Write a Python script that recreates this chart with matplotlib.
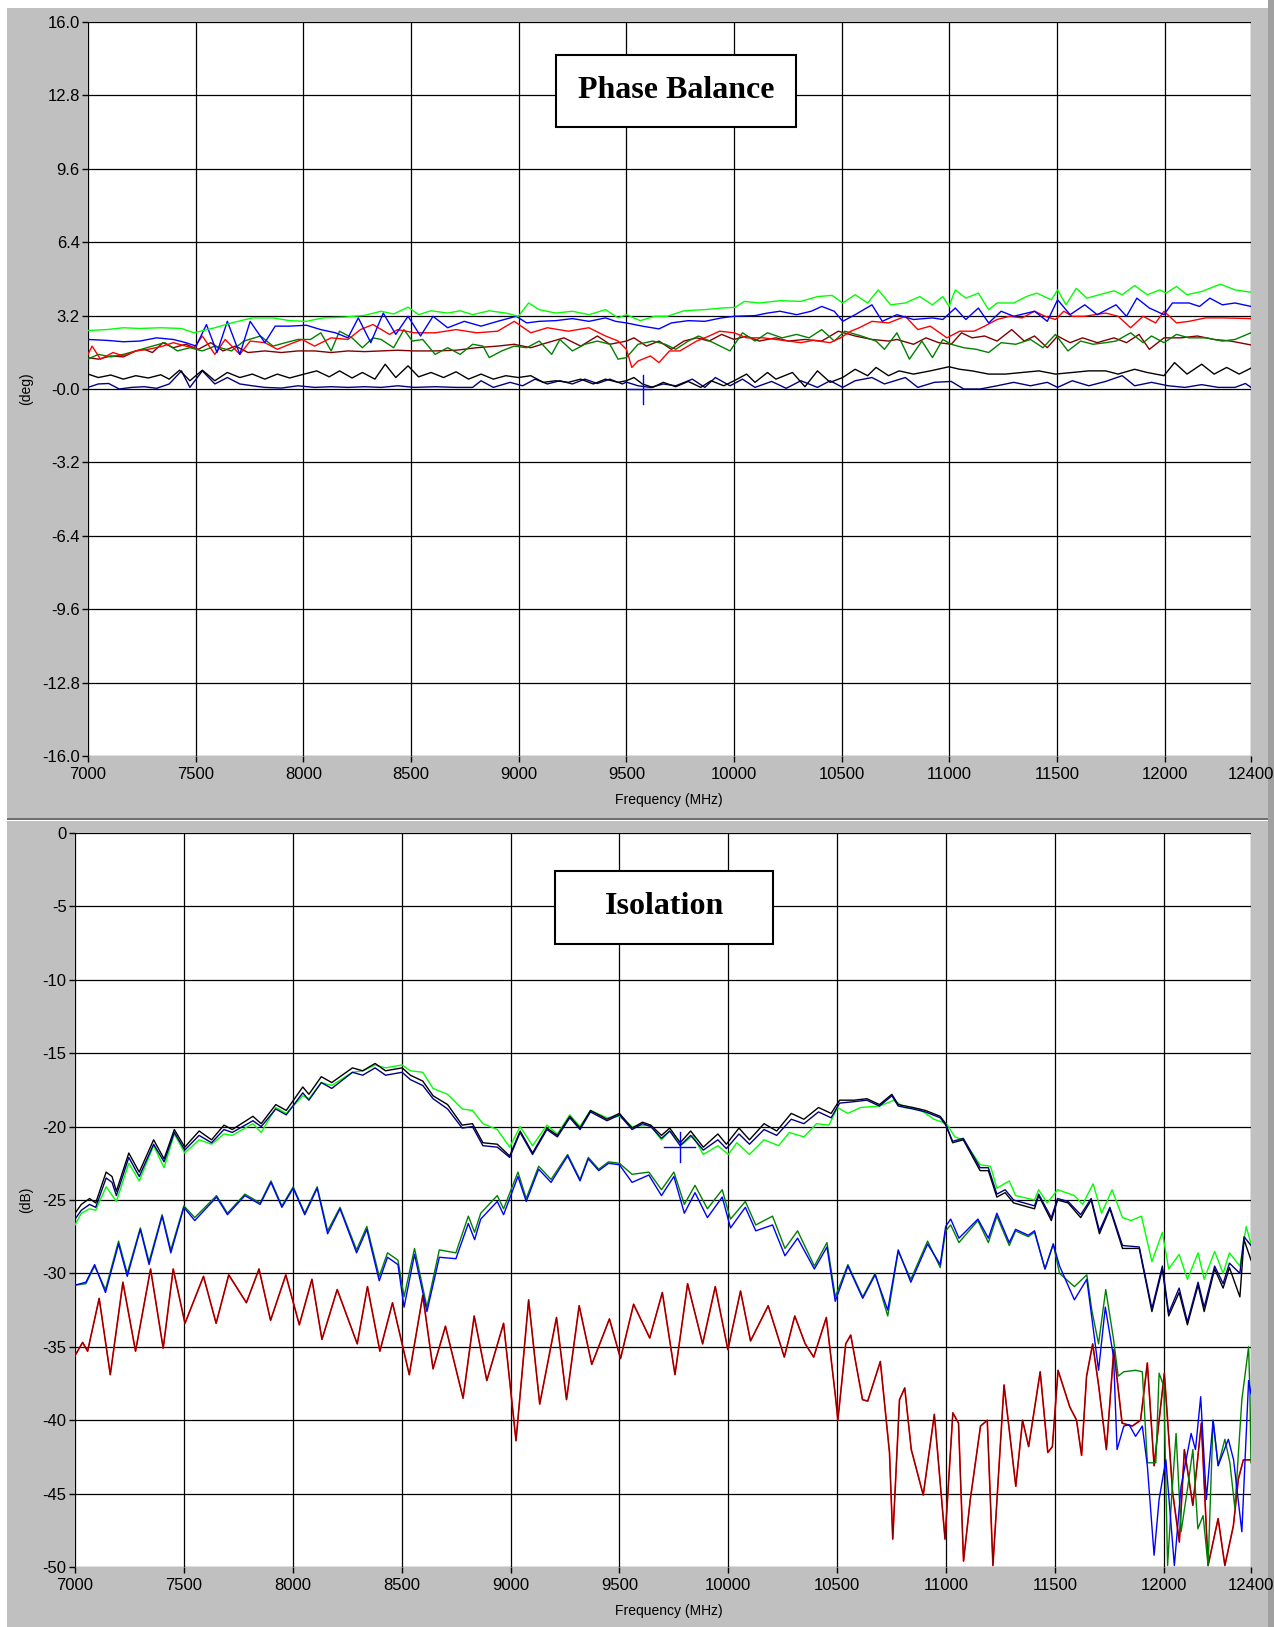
import matplotlib
matplotlib.use("Agg")
import matplotlib.pyplot as plt
from matplotlib.patches import Rectangle
import numpy as np

W, H = 1274, 1627

# ---------------- Phase Balance data (deg) ----------------
pb_green_f = [7000,7087,7164,7241,7338,7434,7492,7589,7666,7763,7859,7936,8014,8091,8187,8284,8361,8419,8486,8535,8593,8670,8728,8786,8863,8940,8998,9046,9095,9172,9249,9326,9403,9461,9500,9564,9632,9690,9767,9864,9942,10004,10048,10116,10213,10310,10388,10455,10504,10562,10620,10669,10727,10795,10862,10921,10969,10998,11027,11076,11134,11182,11221,11298,11357,11405,11473,11502,11541,11589,11638,11696,11764,11802,11860,11918,11977,12006,12054,12103,12171,12258,12326,12400]
pb_green_v = [2.55,2.59,2.67,2.64,2.67,2.64,2.45,2.67,2.88,3.10,3.10,2.98,2.95,3.10,3.13,3.21,3.39,3.27,3.57,3.24,3.41,3.31,3.41,3.24,3.41,3.31,3.17,3.75,3.46,3.31,3.39,3.24,3.46,3.10,3.24,2.98,3.17,3.17,3.41,3.46,3.53,3.56,3.82,3.75,3.85,3.82,4.03,4.08,3.75,4.11,3.75,4.32,3.67,3.75,4.03,3.67,4.03,3.60,4.32,3.96,4.18,3.46,3.75,3.75,4.03,4.18,3.89,4.32,3.67,4.39,3.96,4.11,4.28,4.11,4.51,4.11,4.32,4.18,4.47,4.11,4.25,4.57,4.32,4.22]

pb_blue_f = [7000,7087,7164,7241,7318,7396,7454,7502,7550,7599,7647,7705,7753,7821,7869,7936,8014,8081,8149,8207,8255,8313,8371,8429,8486,8544,8602,8670,8747,8825,8902,8988,9037,9095,9172,9249,9326,9403,9450,9500,9574,9651,9709,9787,9864,9942,10000,10097,10155,10213,10290,10358,10407,10465,10504,10562,10640,10688,10756,10833,10921,10969,11027,11076,11134,11182,11240,11298,11395,11454,11502,11560,11628,11686,11773,11822,11870,11928,11996,12035,12112,12161,12209,12267,12326,12400]
pb_blue_v = [2.16,2.12,2.06,2.09,2.23,2.16,2.02,1.87,2.81,1.59,2.95,1.51,2.95,2.02,2.74,2.74,2.78,2.59,2.45,2.23,3.10,2.02,3.31,2.38,3.17,2.31,3.17,2.67,2.95,2.74,2.95,3.17,2.88,2.95,2.98,3.07,2.95,3.10,2.95,2.88,2.74,2.62,2.88,2.98,2.95,3.10,3.17,3.20,3.31,3.39,3.24,3.39,3.60,3.39,2.95,3.24,3.67,2.95,3.24,3.03,3.10,3.03,3.53,3.03,3.53,2.88,3.39,3.17,3.39,2.95,3.89,3.24,3.67,3.24,3.67,3.17,3.96,3.53,3.24,3.75,3.75,3.60,3.96,3.67,3.75,3.60]

pb_red_f = [7000,7019,7058,7116,7164,7222,7280,7348,7396,7454,7492,7531,7589,7637,7705,7753,7821,7879,7936,7994,8052,8129,8207,8265,8323,8400,8438,8515,8612,8709,8805,8902,8979,9056,9133,9230,9326,9403,9460,9500,9525,9554,9612,9651,9700,9748,9826,9884,9932,10000,10058,10136,10194,10252,10310,10368,10446,10494,10542,10581,10640,10717,10795,10853,10911,10988,11047,11114,11163,11221,11279,11337,11395,11444,11492,11531,11570,11628,11725,11783,11841,11899,11957,11996,12054,12112,12190,12267,12400]
pb_red_v = [1.51,1.87,1.30,1.59,1.44,1.66,1.73,1.87,2.02,1.87,1.80,2.31,1.51,2.16,1.51,2.09,2.02,1.73,1.95,2.16,1.87,2.23,2.16,2.59,2.81,2.38,2.59,2.45,2.45,2.59,2.45,2.52,2.95,2.45,2.67,2.52,2.67,2.31,2.10,1.73,0.94,1.22,1.44,1.15,1.66,1.66,2.09,2.31,2.52,2.45,2.23,2.23,2.16,2.09,2.02,2.12,2.02,2.23,2.52,2.67,2.95,2.88,3.17,2.59,2.74,2.23,2.52,2.52,2.74,3.03,3.17,3.10,3.39,3.17,3.03,3.39,3.17,3.17,3.31,3.17,2.67,3.17,2.88,3.39,2.88,2.95,3.10,3.10,3.07]

pb_dkgreen_f = [7000,7048,7106,7164,7222,7299,7357,7415,7473,7531,7589,7666,7724,7801,7859,7917,7975,8033,8081,8129,8168,8226,8274,8323,8361,8419,8467,8506,8554,8612,8670,8728,8786,8834,8863,8921,8979,9037,9095,9153,9191,9249,9307,9365,9423,9461,9500,9554,9622,9680,9729,9787,9835,9903,9981,10039,10097,10155,10223,10290,10348,10407,10465,10514,10591,10659,10698,10756,10814,10872,10921,10969,11008,11066,11124,11182,11240,11308,11376,11434,11492,11550,11609,11667,11725,11773,11841,11899,11938,11996,12054,12112,12190,12267,12326,12400]
pb_dkgreen_v = [1.30,1.51,1.40,1.51,1.66,1.87,2.02,1.66,1.80,1.66,1.87,1.66,2.09,2.31,1.87,2.02,2.16,2.16,2.45,1.66,2.52,2.23,1.80,2.23,2.16,1.80,2.59,2.09,2.16,1.51,1.80,1.51,1.95,1.87,1.37,1.66,1.87,1.80,2.09,1.51,2.16,1.66,1.95,2.09,1.95,1.30,1.37,1.95,2.09,1.95,1.73,2.09,2.31,2.02,1.66,2.45,2.09,2.45,2.23,2.38,2.23,2.59,2.09,2.52,2.31,2.09,1.73,2.45,1.30,2.09,1.37,2.16,1.95,1.80,1.73,1.59,2.02,1.95,2.16,1.80,2.38,1.66,2.09,1.95,2.02,2.09,2.45,2.02,2.31,2.02,2.38,2.23,2.23,2.09,2.16,2.45]

pb_dkred_f = [7000,7048,7106,7164,7222,7261,7299,7348,7396,7454,7512,7570,7627,7685,7743,7821,7898,7975,8052,8129,8207,8284,8361,8438,8515,8612,8709,8805,8902,8979,9056,9133,9210,9288,9365,9423,9500,9535,9593,9651,9709,9767,9826,9884,9942,10000,10058,10116,10194,10252,10329,10407,10484,10562,10640,10717,10756,10833,10891,10950,11008,11056,11105,11163,11221,11289,11347,11395,11454,11502,11560,11618,11686,11764,11822,11880,11928,11996,12074,12151,12229,12306,12400]
pb_dkred_v = [1.37,1.30,1.44,1.40,1.66,1.73,1.59,2.02,1.80,1.95,1.73,2.02,1.66,1.87,1.59,1.66,1.59,1.66,1.66,1.59,1.66,1.63,1.66,1.69,1.66,1.66,1.69,1.80,1.87,1.95,1.80,2.02,2.23,1.87,2.31,1.95,2.09,2.23,1.87,2.09,1.73,2.09,2.23,2.09,2.38,2.16,2.31,2.09,2.23,2.09,2.16,2.09,2.52,2.31,2.16,2.09,2.16,1.95,2.23,2.02,1.95,2.45,2.23,2.31,2.09,2.59,2.09,2.31,1.80,2.31,2.02,2.23,2.02,2.23,2.02,2.38,1.73,2.23,2.23,2.31,2.16,2.09,1.92]

pb_black_f = [7000,7048,7106,7164,7222,7280,7338,7377,7425,7473,7531,7589,7647,7705,7763,7821,7879,7936,8004,8062,8120,8168,8226,8274,8332,8380,8429,8486,8535,8593,8651,8709,8767,8825,8882,8940,8998,9056,9114,9172,9230,9288,9346,9403,9461,9500,9535,9574,9622,9671,9729,9787,9845,9893,9952,10000,10058,10097,10155,10194,10271,10329,10387,10446,10504,10562,10620,10659,10717,10766,10833,10911,10998,11047,11105,11182,11260,11337,11415,11492,11570,11647,11725,11783,11860,11918,11996,12045,12103,12171,12229,12287,12345,12400]
pb_black_v = [0.65,0.50,0.61,0.43,0.58,0.48,0.62,0.43,0.82,0.36,0.82,0.36,0.72,0.50,0.65,0.43,0.65,0.48,0.65,0.79,0.53,0.79,0.48,0.72,0.43,1.08,0.50,1.01,0.53,0.72,0.50,0.75,0.43,0.65,0.43,0.58,0.50,0.58,0.29,0.36,0.29,0.43,0.22,0.43,0.29,0.36,0.50,0.22,0.07,0.29,0.10,0.33,0.07,0.36,0.14,0.36,0.65,0.29,0.72,0.43,0.72,0.10,0.79,0.29,0.50,0.86,0.58,0.94,0.58,0.79,0.65,0.79,0.97,0.86,0.79,0.65,0.65,0.72,0.79,0.65,0.72,0.79,0.79,0.65,0.86,0.72,0.58,1.15,0.65,1.08,0.65,0.94,0.65,0.91]

pb_navy_f = [7000,7048,7096,7145,7203,7261,7319,7377,7434,7473,7531,7589,7647,7705,7763,7821,7898,7975,8052,8129,8207,8284,8361,8438,8515,8612,8709,8786,8825,8882,8960,9018,9076,9133,9191,9249,9307,9365,9423,9481,9500,9554,9612,9671,9729,9806,9864,9913,9981,10039,10097,10174,10242,10310,10387,10446,10504,10562,10640,10698,10795,10853,10930,11008,11066,11143,11221,11298,11376,11454,11502,11570,11647,11725,11802,11860,11938,12016,12093,12171,12248,12326,12374,12400]
pb_navy_v = [0.07,0.22,0.24,0.00,0.07,0.10,0.03,0.22,0.79,0.07,0.79,0.22,0.50,0.22,0.14,0.07,0.04,0.14,0.07,0.10,0.07,0.10,0.07,0.14,0.07,0.10,0.07,0.07,0.36,0.07,0.29,0.14,0.43,0.22,0.36,0.22,0.43,0.24,0.43,0.22,0.30,0.14,0.07,0.22,0.14,0.43,0.07,0.50,0.14,0.43,0.07,0.33,0.03,0.36,0.07,0.36,0.07,0.36,0.50,0.22,0.50,0.07,0.29,0.33,0.00,0.00,0.14,0.29,0.14,0.29,0.07,0.36,0.14,0.33,0.58,0.14,0.29,0.14,0.07,0.19,0.07,0.07,0.24,0.07]

pb_cursor = (9575, 0.0)

# ---------------- Isolation data (dB) ----------------
iso_upper_f = [7000,7029,7067,7095,7143,7170,7190,7247,7295,7361,7409,7456,7504,7570,7627,7684,7722,7817,7855,7922,7970,8046,8074,8131,8179,8274,8321,8378,8426,8502,8540,8597,8644,8711,8778,8825,8873,8939,8996,9044,9101,9167,9215,9272,9319,9367,9443,9500,9558,9606,9644,9693,9731,9779,9827,9885,9952,9991,10049,10097,10164,10222,10289,10347,10414,10472,10511,10578,10636,10694,10751,10780,10848,10905,10973,10998,11030,11079,11156,11194,11233,11271,11310,11358,11406,11425,11483,11512,11560,11618,11666,11704,11752,11810,11887,11945,11993,12022,12070,12108,12157,12185,12233,12272,12301,12349,12368,12400]
iso_black_v = [-25.9,-25.3,-24.9,-25.2,-23.1,-23.4,-24.4,-21.8,-23.1,-20.9,-22.2,-20.2,-21.4,-20.3,-20.9,-19.9,-20.2,-19.3,-19.8,-18.5,-18.9,-17.3,-17.8,-16.6,-17.0,-16.0,-16.2,-15.7,-16.2,-16.0,-16.5,-16.9,-17.9,-18.5,-19.9,-19.8,-21.1,-21.2,-22.0,-20.3,-21.8,-20.1,-20.6,-19.3,-20.1,-18.9,-19.5,-19.1,-20.1,-19.7,-19.9,-20.6,-20.1,-21.1,-20.3,-21.4,-20.5,-21.2,-20.1,-20.9,-19.8,-20.3,-19.1,-19.5,-18.7,-19.1,-18.2,-18.2,-18.1,-18.5,-17.8,-18.5,-18.7,-18.9,-19.3,-19.8,-21.1,-20.9,-23.0,-23.0,-24.8,-24.5,-25.2,-25.4,-25.6,-24.7,-26.4,-25.0,-25.2,-26.2,-25.0,-27.3,-25.6,-28.3,-28.3,-32.6,-29.7,-32.9,-31.3,-33.5,-30.8,-32.6,-29.7,-31.0,-29.6,-31.6,-27.7,-29.1]
iso_navy_v = [-26.3,-25.7,-25.3,-25.5,-23.5,-23.8,-24.7,-22.1,-23.4,-21.2,-22.4,-20.4,-21.6,-20.6,-21.1,-20.2,-20.4,-19.6,-20.0,-18.8,-19.2,-17.7,-18.2,-17.0,-17.4,-16.3,-16.5,-16.0,-16.5,-16.3,-16.8,-17.2,-18.1,-18.8,-20.1,-20.0,-21.3,-21.4,-22.1,-20.4,-21.9,-20.2,-20.7,-19.4,-20.2,-19.0,-19.6,-19.2,-20.2,-19.8,-20.0,-20.8,-20.3,-21.3,-20.6,-21.6,-20.9,-21.5,-20.5,-21.2,-20.2,-20.6,-19.5,-19.8,-19.0,-19.4,-18.4,-18.3,-18.2,-18.6,-17.9,-18.6,-18.8,-19.0,-19.4,-19.9,-21.0,-20.8,-22.8,-22.8,-24.6,-24.3,-25.0,-25.2,-25.4,-24.6,-26.2,-24.9,-25.1,-26.0,-24.9,-27.1,-25.5,-28.1,-28.2,-32.4,-29.5,-32.7,-31.0,-33.3,-30.6,-32.3,-29.5,-30.7,-29.3,-30.0,-27.5,-28.1]

iso_green_f = [7000,7029,7067,7095,7143,7190,7247,7295,7361,7409,7456,7504,7570,7627,7684,7722,7817,7855,7922,7970,8046,8074,8131,8179,8274,8321,8378,8426,8502,8540,8597,8644,8711,8778,8825,8873,8939,8996,9044,9101,9167,9215,9272,9319,9367,9443,9500,9558,9640,9693,9731,9789,9837,9885,9952,10000,10039,10097,10164,10231,10280,10347,10405,10462,10501,10549,10607,10694,10761,10809,10876,10944,11002,11040,11079,11156,11204,11233,11290,11319,11406,11425,11464,11512,11589,11627,11675,11714,11762,11810,11849,11897,11945,11993,12022,12070,12108,12157,12185,12233,12272,12301,12349,12378,12400]
iso_green_v = [-26.7,-25.9,-25.6,-25.7,-24.1,-25.1,-22.5,-23.7,-21.3,-22.8,-20.5,-21.8,-20.9,-21.2,-20.5,-20.6,-19.8,-20.4,-18.7,-19.1,-17.9,-18.1,-17.0,-17.2,-16.3,-16.2,-15.8,-16.0,-15.8,-16.2,-16.3,-17.4,-17.8,-18.8,-18.9,-19.8,-20.2,-21.4,-20.0,-21.3,-19.9,-20.5,-19.2,-20.0,-18.9,-19.4,-19.3,-20.0,-19.9,-20.9,-20.3,-21.2,-20.6,-21.9,-21.3,-21.9,-21.1,-21.9,-20.9,-21.3,-20.4,-20.7,-19.8,-19.9,-18.7,-19.1,-18.7,-18.6,-18.2,-18.7,-18.8,-19.5,-19.8,-20.7,-20.9,-22.6,-22.7,-24.2,-23.7,-24.7,-25.0,-24.3,-25.2,-24.3,-24.7,-25.3,-23.9,-25.9,-24.3,-26.2,-26.4,-26.1,-29.2,-27.2,-29.7,-28.7,-30.4,-28.6,-30.4,-28.5,-30.0,-28.6,-29.5,-26.8,-28.0]

iso_dkgreen_f = [7000,7050,7090,7140,7200,7240,7300,7340,7400,7440,7500,7550,7650,7700,7780,7850,7900,7950,8002,8055,8112,8160,8217,8293,8340,8397,8435,8483,8511,8559,8616,8673,8749,8806,8835,8863,8939,8968,9034,9072,9129,9186,9262,9319,9357,9405,9450,9500,9558,9635,9693,9750,9798,9847,9904,9972,10010,10078,10126,10203,10260,10318,10395,10453,10491,10549,10617,10674,10732,10780,10838,10915,10973,10998,11021,11059,11146,11194,11233,11290,11319,11377,11406,11454,11492,11521,11589,11646,11669,11700,11733,11769,11790,11816,11870,11901,11924,11963,11978,12000,12017,12035,12056,12079,12110,12133,12156,12180,12203,12226,12249,12280,12303,12326,12358,12389,12395,12400]
iso_dkgreen_v = [-30.8,-30.7,-29.5,-31.1,-27.8,-30.0,-26.9,-29.2,-26.0,-28.4,-25.4,-26.2,-24.7,-25.9,-24.6,-25.2,-23.7,-25.4,-24.1,-25.9,-24.1,-27.1,-25.5,-28.4,-26.8,-30.2,-28.6,-29.1,-31.6,-28.3,-32.3,-28.4,-28.6,-26.1,-27.2,-25.9,-24.7,-25.6,-23.1,-24.9,-22.7,-23.6,-21.9,-23.6,-22.1,-22.9,-22.4,-22.5,-23.25,-23.1,-24.3,-23.1,-25.3,-24.0,-25.6,-24.3,-26.3,-25.1,-26.7,-26.1,-28.3,-27.1,-29.5,-27.9,-31.6,-29.4,-31.6,-30.0,-32.9,-28.5,-30.4,-27.8,-29.6,-27.1,-26.7,-27.9,-26.4,-27.9,-26.1,-28.1,-27.1,-27.5,-27.2,-29.7,-28.0,-30.0,-30.9,-30.1,-32.5,-34.8,-31.1,-34.5,-37.0,-36.7,-36.6,-36.7,-42.9,-42.9,-36.8,-37.7,-49.9,-45.4,-40.9,-47.6,-44.5,-42.0,-47.4,-46.5,-49.9,-40.0,-43.1,-41.3,-42.9,-46.0,-38.6,-35.0,-38.2,-42.9]

iso_blue_f = [7000,7050,7090,7140,7200,7240,7300,7340,7400,7440,7500,7550,7650,7700,7780,7850,7900,7950,8002,8055,8112,8160,8217,8293,8340,8397,8435,8483,8511,8559,8616,8673,8749,8806,8835,8863,8939,8968,9034,9072,9129,9186,9262,9319,9357,9405,9450,9500,9558,9635,9693,9750,9798,9847,9904,9972,10010,10078,10126,10203,10260,10318,10395,10453,10491,10549,10617,10674,10732,10780,10838,10915,10973,10998,11021,11059,11146,11194,11233,11290,11319,11377,11406,11454,11492,11521,11589,11646,11669,11700,11731,11769,11785,11816,11840,11870,11901,11924,11955,11978,12009,12048,12079,12125,12145,12169,12195,12226,12249,12296,12320,12358,12389,12400]
iso_blue_v = [-30.8,-30.6,-29.4,-31.3,-28.0,-30.2,-27.0,-29.4,-26.1,-28.6,-25.5,-26.4,-24.8,-26.0,-24.7,-25.3,-23.8,-25.5,-24.2,-26.0,-24.2,-27.3,-25.6,-28.6,-27.0,-30.5,-28.9,-29.4,-32.3,-28.7,-32.6,-28.9,-29.0,-26.6,-27.7,-26.3,-25.1,-26.0,-23.4,-25.1,-22.9,-23.8,-22.0,-23.7,-22.2,-23.0,-22.5,-22.6,-23.8,-23.3,-24.7,-23.4,-25.9,-24.5,-26.2,-24.8,-26.9,-25.5,-27.1,-26.7,-28.8,-27.6,-29.7,-28.2,-31.9,-29.5,-31.7,-30.1,-32.5,-28.4,-30.6,-28.0,-29.4,-26.8,-26.3,-27.6,-26.3,-27.6,-25.9,-27.9,-27.0,-27.4,-27.1,-29.7,-28.0,-29.5,-31.8,-30.4,-33.0,-36.6,-32.3,-35.7,-42.0,-40.4,-40.3,-41.1,-40.4,-43.1,-49.2,-45.4,-42.7,-49.9,-44.5,-40.9,-42.0,-38.4,-45.4,-40.0,-43.1,-41.3,-42.7,-47.6,-37.3,-38.2]

iso_red_f = [7000,7035,7058,7111,7162,7220,7278,7347,7405,7451,7505,7590,7648,7706,7787,7845,7898,7968,8030,8088,8134,8204,8296,8343,8400,8458,8535,8597,8644,8701,8782,8833,8891,8968,9025,9083,9134,9211,9257,9315,9373,9454,9505,9565,9639,9697,9755,9813,9882,9940,9998,10056,10102,10183,10257,10305,10353,10392,10450,10492,10503,10539,10562,10616,10640,10698,10740,10755,10786,10810,10840,10895,10946,10995,11031,11057,11080,11111,11158,11189,11215,11266,11320,11351,11379,11432,11467,11488,11514,11568,11599,11622,11645,11673,11701,11736,11770,11808,11855,11893,11924,11955,12002,12040,12071,12094,12133,12172,12203,12249,12280,12319,12342,12365,12400]
iso_red_v = [-35.6,-34.7,-35.3,-31.7,-36.9,-30.6,-35.3,-29.7,-35.1,-29.7,-33.4,-30.2,-33.4,-30.1,-32.0,-29.7,-33.2,-30.1,-33.5,-30.4,-34.5,-31.1,-34.8,-30.9,-35.3,-32.0,-36.9,-31.5,-36.5,-33.6,-38.5,-32.9,-37.3,-33.4,-41.4,-31.8,-38.9,-33.0,-38.6,-32.2,-36.2,-33.1,-35.8,-32.1,-34.4,-31.3,-36.9,-30.7,-34.8,-30.9,-35.2,-31.2,-34.6,-32.2,-35.7,-32.9,-34.8,-35.7,-33.0,-38.4,-40.0,-34.8,-34.2,-38.6,-38.7,-36.0,-42.2,-48.1,-38.6,-37.8,-42.0,-45.1,-39.6,-48.1,-39.5,-40.2,-49.6,-45.4,-40.4,-40.0,-49.9,-37.6,-44.5,-40.0,-41.8,-36.7,-42.2,-41.8,-36.6,-39.1,-40.0,-42.4,-37.0,-34.8,-37.7,-42.0,-35.2,-40.2,-40.4,-40.0,-36.1,-43.1,-36.8,-44.9,-48.3,-42.0,-45.8,-40.2,-49.9,-46.7,-49.9,-47.2,-44.0,-42.7,-42.7]

iso_cursor = (9779, -21.4)

x_ticks = [7000, 7500, 8000, 8500, 9000, 9500, 10000, 10500, 11000, 11500, 12000, 12400]
pb_yticks = [16.0, 12.8, 9.6, 6.4, 3.2, 0.0, -3.2, -6.4, -9.6, -12.8, -16.0]
pb_ylabels = ["16.0", "12.8", "9.6", "6.4", "3.2", "-0.0", "-3.2", "-6.4", "-9.6", "-12.8", "-16.0"]
iso_yticks = [0, -5, -10, -15, -20, -25, -30, -35, -40, -45, -50]
iso_ylabels = ["0", "-5", "-10", "-15", "-20", "-25", "-30", "-35", "-40", "-45", "-50"]

# ---------------- figure ----------------
GRAY = "#c0c0c0"
fig = plt.figure(figsize=(W / 100, H / 100), dpi=100)
fig.patch.set_facecolor("white")


def frect(x0, y0, x1, y1, **kw):
    r = Rectangle((x0 / W, 1 - y1 / H), (x1 - x0) / W, (y1 - y0) / H,
                  transform=fig.transFigure, **kw)
    fig.add_artist(r)
    return r


frect(7, 8, 1268, 818, facecolor=GRAY, edgecolor="none", zorder=-5)
frect(7, 821, 1268, 1627, facecolor=GRAY, edgecolor="none", zorder=-5)
frect(7, 818, 1274, 820, facecolor="#707070", edgecolor="none", zorder=-4)
frect(1268, 0, 1274, 1627, facecolor="#a0a0a0", edgecolor="none", zorder=-4)

plt.rcParams["font.family"] = ["Liberation Sans", "DejaVu Sans"]


def make_axes(x0, y0, x1, y1):
    ax = fig.add_axes([x0 / W, 1 - y1 / H, (x1 - x0) / W, (y1 - y0) / H])
    ax.set_facecolor("white")
    for s in ax.spines.values():
        s.set_visible(False)
    ax.grid(True, color="black", lw=0.9)
    ax.set_axisbelow(True)
    ax.tick_params(direction="out", length=4.5, width=1.0, colors="black",
                   labelsize=12, pad=1.5)
    ax.tick_params(axis="x", pad=3.5)
    ax.set_xticks(x_ticks)
    ax.set_xticklabels([str(t) for t in x_ticks])
    ax.set_xlim(7000, 12400)
    return ax


ax1 = make_axes(88, 22, 1251, 756)
ax1.set_ylim(-16, 16)
ax1.set_yticks(pb_yticks)
ax1.set_yticklabels(pb_ylabels)
LW = 1.0
ax1.plot(pb_navy_f, pb_navy_v, color="#000080", lw=LW)
ax1.plot(pb_black_f, pb_black_v, color="black", lw=LW)
ax1.plot(pb_dkred_f, pb_dkred_v, color="#800000", lw=LW)
ax1.plot(pb_dkgreen_f, pb_dkgreen_v, color="#008000", lw=LW)
ax1.plot(pb_red_f, pb_red_v, color="#ff0000", lw=LW)
ax1.plot(pb_blue_f, pb_blue_v, color="#0000ff", lw=LW)
ax1.plot(pb_green_f, pb_green_v, color="#00ff00", lw=LW)
cx, cy = pb_cursor
ax1.plot([cx, cx], [cy - 0.65, cy + 0.6], color="#0000ff", lw=1.0)
ax1.plot([cx - 70, cx + 40], [cy, cy], color="#0000ff", lw=1.0)

ax2 = make_axes(75, 833, 1251, 1567)
ax2.set_ylim(-50, 0)
ax2.set_yticks(iso_yticks)
ax2.set_yticklabels(iso_ylabels)
ax2.plot(iso_red_f, iso_red_v, color="#ff0000", lw=1.2)
ax2.plot(iso_red_f, iso_red_v, color="#800000", lw=0.75)
ax2.plot(iso_dkgreen_f, iso_dkgreen_v, color="#008000", lw=LW)
ax2.plot(iso_blue_f, iso_blue_v, color="#0000ff", lw=LW)
ax2.plot(iso_green_f, iso_green_v, color="#00ff00", lw=LW)
ax2.plot(iso_upper_f, iso_black_v, color="black", lw=LW)
ax2.plot(iso_upper_f, iso_navy_v, color="#000080", lw=LW)
cx, cy = iso_cursor
ax2.plot([cx, cx], [cy - 1.0, cy + 1.0], color="#0000ff", lw=1.0)
ax2.plot([cx - 75, cx + 70], [cy, cy], color="#0000ff", lw=1.0)

# title boxes
frect(556, 55, 796, 127, facecolor="white", edgecolor="black", lw=1.5, zorder=5)
fig.text(676 / W, 1 - 91 / H, "Phase Balance", ha="center", va="center",
         family=["Liberation Serif", "DejaVu Serif"], weight="bold", fontsize=23, zorder=6)
frect(555, 871, 773, 944, facecolor="white", edgecolor="black", lw=1.5, zorder=5)
fig.text(664 / W, 1 - 907 / H, "Isolation", ha="center", va="center",
         family=["Liberation Serif", "DejaVu Serif"], weight="bold", fontsize=23, zorder=6)

# axis labels
fig.text(26 / W, 1 - 389 / H, "(deg)", rotation=90, ha="center", va="center", fontsize=10)
fig.text(669 / W, 1 - 800 / H, "Frequency (MHz)", ha="center", va="center", fontsize=10)
fig.text(26 / W, 1 - 1200 / H, "(dB)", rotation=90, ha="center", va="center", fontsize=10)
fig.text(669 / W, 1 - 1611 / H, "Frequency (MHz)", ha="center", va="center", fontsize=10)

fig.savefig("out.png", dpi=100, facecolor=fig.get_facecolor())
